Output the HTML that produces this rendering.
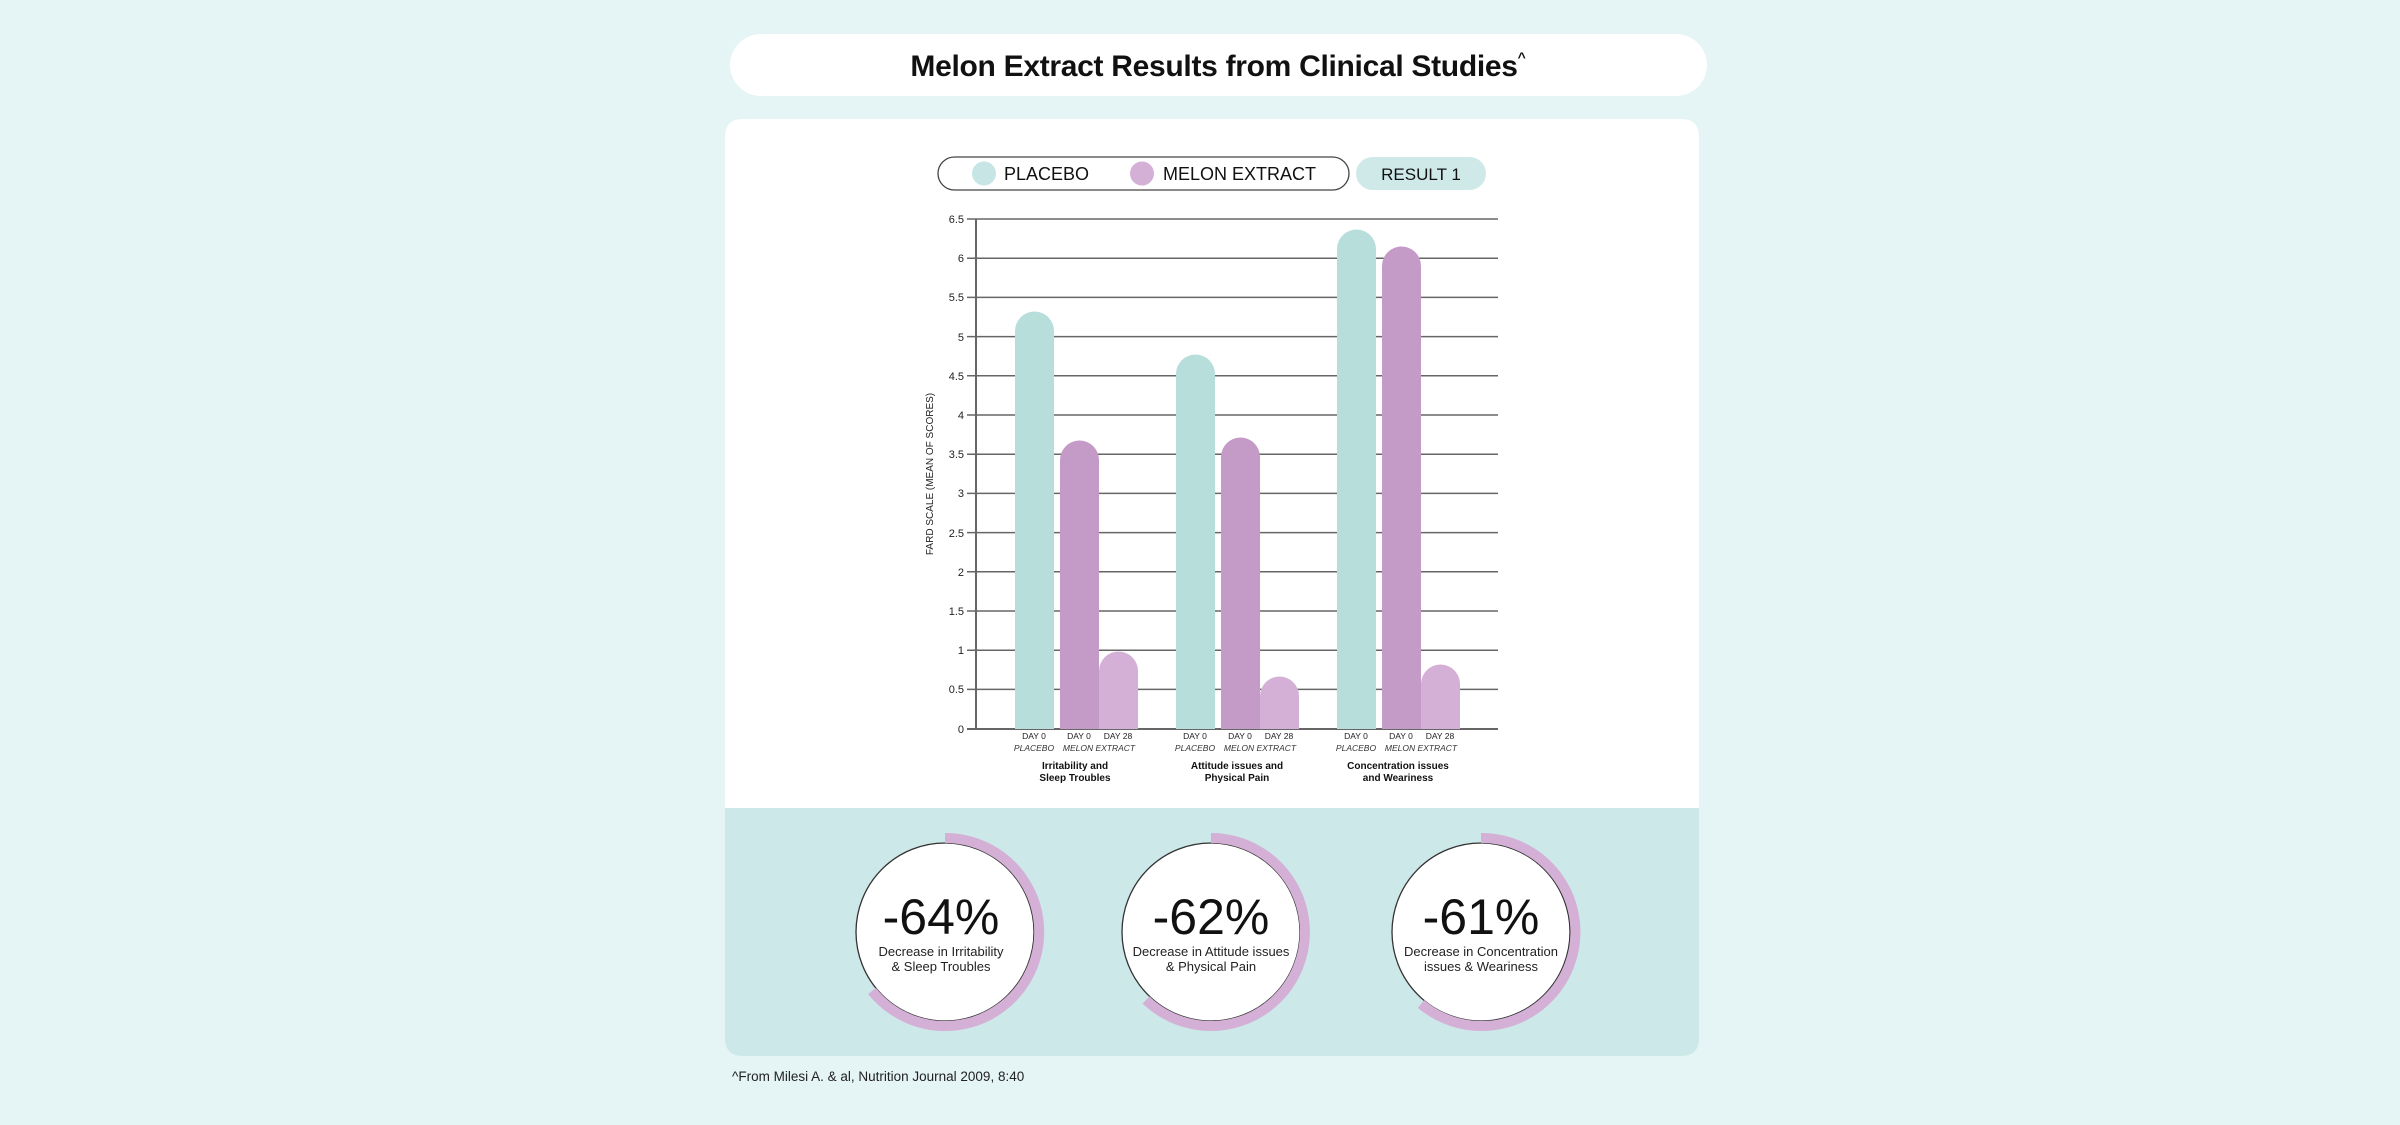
<!DOCTYPE html>
<html><head><meta charset="utf-8"><style>
html,body{margin:0;padding:0;background:#e5f4f4;}
svg{display:block;font-family:"Liberation Sans",Arial,sans-serif;}
</style></head><body>
<svg width="2400" height="1125" viewBox="0 0 2400 1125" xmlns="http://www.w3.org/2000/svg">
<rect width="2400" height="1125" fill="#e5f4f4"/>
<!-- title -->
<rect x="730" y="34" width="977" height="62" rx="31" fill="#fff"/>
<text x="1218" y="76" text-anchor="middle" font-size="30" font-weight="bold" fill="#111" letter-spacing="-0.3">Melon Extract Results from Clinical Studies<tspan font-size="14" dy="-14">^</tspan></text>
<!-- white panel -->
<path d="M725 808 V137 Q725 119 743 119 H1681 Q1699 119 1699 137 V808 Z" fill="#fff"/>
<path d="M725 808 H1699 V1038 Q1699 1056 1681 1056 H743 Q725 1056 725 1038 Z" fill="#cde8e8"/>
<!-- legend -->
<rect x="938" y="157" width="411" height="33" rx="16.5" fill="#fff" stroke="#444" stroke-width="1.3"/>
<circle cx="984" cy="173.5" r="12" fill="#c7e5e4"/>
<text x="1004" y="180" font-size="18" fill="#111">PLACEBO</text>
<circle cx="1142" cy="173.5" r="12" fill="#d4b0d6"/>
<text x="1163" y="180" font-size="18" fill="#111">MELON EXTRACT</text>
<rect x="1356" y="157" width="130" height="33" rx="16.5" fill="#cfe9e9"/>
<text x="1421" y="180" font-size="17" fill="#111" text-anchor="middle">RESULT 1</text>
<!-- grid -->
<g stroke="#666" stroke-width="1.5">
<line x1="967" y1="219" x2="1498" y2="219"/>
<line x1="967" y1="258.2" x2="1498" y2="258.2"/>
<line x1="967" y1="297.4" x2="1498" y2="297.4"/>
<line x1="967" y1="336.6" x2="1498" y2="336.6"/>
<line x1="967" y1="375.8" x2="1498" y2="375.8"/>
<line x1="967" y1="415" x2="1498" y2="415"/>
<line x1="967" y1="454.2" x2="1498" y2="454.2"/>
<line x1="967" y1="493.4" x2="1498" y2="493.4"/>
<line x1="967" y1="532.6" x2="1498" y2="532.6"/>
<line x1="967" y1="571.8" x2="1498" y2="571.8"/>
<line x1="967" y1="611" x2="1498" y2="611"/>
<line x1="967" y1="650.2" x2="1498" y2="650.2"/>
<line x1="967" y1="689.4" x2="1498" y2="689.4"/>
<line x1="967" y1="729" x2="1498" y2="729" stroke-width="2"/>
<line x1="976" y1="219" x2="976" y2="729" stroke-width="2"/>
</g>
<g font-size="11" fill="#222" text-anchor="end">
<text x="964" y="223">6.5</text><text x="964" y="262">6</text><text x="964" y="301">5.5</text><text x="964" y="341">5</text><text x="964" y="380">4.5</text><text x="964" y="419">4</text><text x="964" y="458">3.5</text><text x="964" y="497">3</text><text x="964" y="537">2.5</text><text x="964" y="576">2</text><text x="964" y="615">1.5</text><text x="964" y="654">1</text><text x="964" y="693">0.5</text><text x="964" y="733">0</text>
</g>
<text transform="translate(933,474) rotate(-90)" font-size="10" fill="#222" text-anchor="middle">FARD SCALE (MEAN OF SCORES)</text>
<!-- bars -->
<g>
<path d="M1015 729 V331 A19.5 19.5 0 0 1 1054 331 V729 Z" fill="#b7dedb"/>
<path d="M1060 729 V460 A19.5 19.5 0 0 1 1099 460 V729 Z" fill="#c49ac6"/>
<path d="M1099 729 V671 A19.5 19.5 0 0 1 1138 671 V729 Z" fill="#d4b0d6"/>

<path d="M1176 729 V374 A19.5 19.5 0 0 1 1215 374 V729 Z" fill="#b7dedb"/>
<path d="M1221 729 V457 A19.5 19.5 0 0 1 1260 457 V729 Z" fill="#c49ac6"/>
<path d="M1260 729 V696 A19.5 19.5 0 0 1 1299 696 V729 Z" fill="#d4b0d6"/>

<path d="M1337 729 V249 A19.5 19.5 0 0 1 1376 249 V729 Z" fill="#b7dedb"/>
<path d="M1382 729 V266 A19.5 19.5 0 0 1 1421 266 V729 Z" fill="#c49ac6"/>
<path d="M1421 729 V684 A19.5 19.5 0 0 1 1460 684 V729 Z" fill="#d4b0d6"/>
</g>
<g font-size="8.5" fill="#222" text-anchor="middle">
<text x="1034" y="739">DAY 0</text><text x="1079" y="739">DAY 0</text><text x="1118" y="739">DAY 28</text>
<text x="1195" y="739">DAY 0</text><text x="1240" y="739">DAY 0</text><text x="1279" y="739">DAY 28</text>
<text x="1356" y="739">DAY 0</text><text x="1401" y="739">DAY 0</text><text x="1440" y="739">DAY 28</text>
</g>
<g font-size="8.5" fill="#333" text-anchor="middle" font-style="italic">
<text x="1034" y="751">PLACEBO</text><text x="1099" y="751">MELON EXTRACT</text>
<text x="1195" y="751">PLACEBO</text><text x="1260" y="751">MELON EXTRACT</text>
<text x="1356" y="751">PLACEBO</text><text x="1421" y="751">MELON EXTRACT</text>
</g>
<g font-size="10" font-weight="bold" fill="#111" text-anchor="middle">
<text x="1075" y="769">Irritability and</text><text x="1075" y="781">Sleep Troubles</text>
<text x="1237" y="769">Attitude issues and</text><text x="1237" y="781">Physical Pain</text>
<text x="1398" y="769">Concentration issues</text><text x="1398" y="781">and Weariness</text>
</g>
<!-- circles -->
<g>
<circle cx="945" cy="932" r="89" fill="#fff" stroke="#333" stroke-width="1.3"/>
<path d="M945 838 A94 94 0 1 1 872 991" fill="none" stroke="#d4b0d6" stroke-width="10"/>
<text x="941" y="934" font-size="50" text-anchor="middle" fill="#111">-64%</text>
<text x="941" y="956" font-size="13" text-anchor="middle" fill="#222">Decrease in Irritability</text>
<text x="941" y="971" font-size="13" text-anchor="middle" fill="#222">&amp; Sleep Troubles</text>

<circle cx="1211" cy="932" r="89" fill="#fff" stroke="#333" stroke-width="1.3"/>
<path d="M1211 838 A94 94 0 1 1 1146 1000" fill="none" stroke="#d4b0d6" stroke-width="10"/>
<text x="1211" y="934" font-size="50" text-anchor="middle" fill="#111">-62%</text>
<text x="1211" y="956" font-size="13" text-anchor="middle" fill="#222">Decrease in Attitude issues</text>
<text x="1211" y="971" font-size="13" text-anchor="middle" fill="#222">&amp; Physical Pain</text>

<circle cx="1481" cy="932" r="89" fill="#fff" stroke="#333" stroke-width="1.3"/>
<path d="M1481 838 A94 94 0 1 1 1421 1004" fill="none" stroke="#d4b0d6" stroke-width="10"/>
<text x="1481" y="934" font-size="50" text-anchor="middle" fill="#111">-61%</text>
<text x="1481" y="956" font-size="13" text-anchor="middle" fill="#222">Decrease in Concentration</text>
<text x="1481" y="971" font-size="13" text-anchor="middle" fill="#222">issues &amp; Weariness</text>
</g>
<text x="732" y="1081" font-size="13.5" fill="#222">^From Milesi A. &amp; al, Nutrition Journal 2009, 8:40</text>
</svg>
</body></html>
